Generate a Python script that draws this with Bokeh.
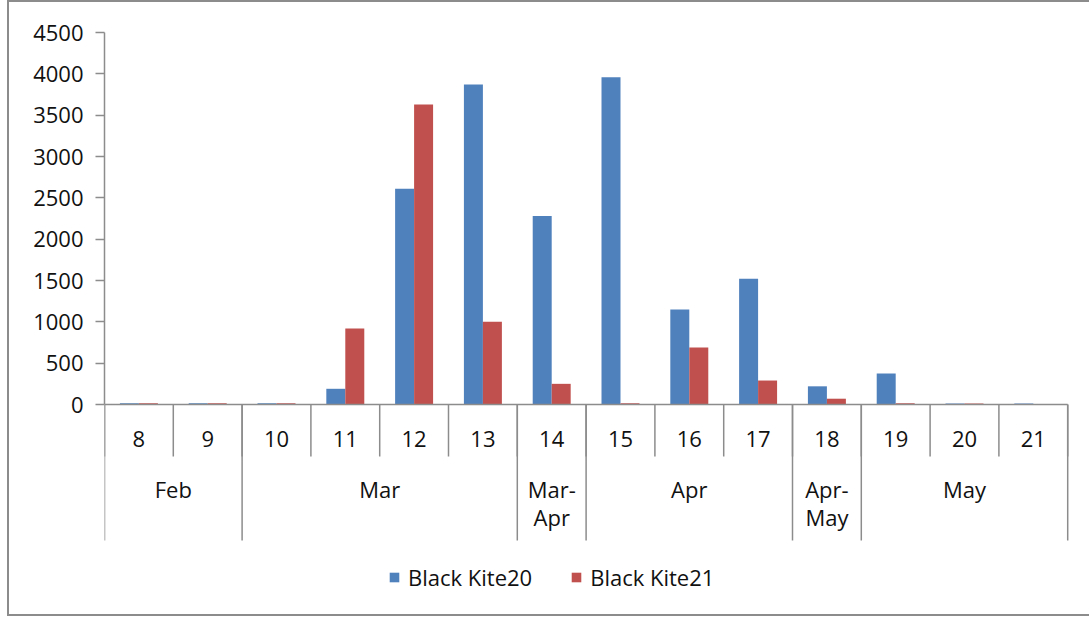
from bokeh.plotting import figure
from bokeh.models import Range1d, FixedTicker
from bokeh.core.properties import value
from bokeh.embed import file_html
from bokeh.resources import INLINE

# ---- data ----
days = ["8", "9", "10", "11", "12", "13", "14", "15", "16", "17", "18", "19", "20", "21"]
groups = ["Feb", "Mar", "Mar-\nApr", "Apr", "Apr-\nMay", "May"]
group_sizes = [2, 4, 1, 3, 1, 3]
kite20 = [15, 15, 15, 190, 2610, 3870, 2280, 3960, 1150, 1520, 220, 375, 12, 12]
kite21 = [15, 15, 15, 920, 3630, 1000, 250, 15, 690, 290, 70, 15, 12, 0]
yticks = [0, 500, 1000, 1500, 2000, 2500, 3000, 3500, 4000, 4500]
series_names = ["Black Kite20", "Black Kite21"]
colors = ["#4F81BD", "#C0504D"]

# ---- layout constants ----
FONT = "Open Sans"
FS = "22px"
TXT = "#111111"
GRID = "#8c8c8c"
PX = 4500 / 372.0          # data units per pixel
CAT_PX = 68.8              # pixel width of one category
TOP = 30
LEFT = 95
W = 1082
H = 616
FRAME_W = W - LEFT
FRAME_H = H - TOP
BAR_W = 0.276

n = len(days)
p = figure(width=W, height=H,
           x_range=Range1d(0, FRAME_W / CAT_PX),
           y_range=Range1d(4500 - FRAME_H * PX, 4500),
           output_backend="svg", toolbar_location=None,
           x_axis_location=None,
           min_border_left=LEFT, min_border_top=TOP,
           min_border_right=0, min_border_bottom=0)
p.styles = {"margin-left": "7px",
            "border-left": "2px solid #8c8c8c",
            "border-top": "2px solid #8c8c8c",
            "border-bottom": "2px solid #8c8c8c"}
p.grid.visible = False
p.outline_line_color = None
p.background_fill_color = "white"
p.border_fill_color = "white"

ax = p.yaxis[0]
ax.ticker = FixedTicker(ticks=yticks)
ax.bounds = (0, 4500)
ax.minor_tick_line_color = None
ax.major_tick_in = 0
ax.major_tick_out = 9
ax.axis_line_color = GRID
ax.major_tick_line_color = GRID
ax.axis_line_width = 1.5
ax.major_tick_line_width = 1.5
ax.major_label_text_font = FONT
ax.major_label_text_font_size = FS
ax.major_label_text_color = TXT
ax.major_label_standoff = 12

xs = [i + 0.5 for i in range(n)]
p.vbar(x=[x - BAR_W / 2 for x in xs], top=kite20, width=BAR_W,
       fill_color=colors[0], line_color=None, legend_label=series_names[0])
p.vbar(x=[x + BAR_W / 2 for x in xs], top=kite21, width=BAR_W,
       fill_color=colors[1], line_color=None, legend_label=series_names[1])

# baseline
p.segment(x0=[0], y0=[0], x1=[n], y1=[0], line_color=GRID, line_width=1.5)

# day separators
p.segment(x0=list(range(n + 1)), y0=[0] * (n + 1), x1=list(range(n + 1)),
          y1=[-52 * PX] * (n + 1), line_color=GRID, line_width=1.5)

# group separators
bounds = [0]
for s in group_sizes:
    bounds.append(bounds[-1] + s)
p.segment(x0=bounds, y0=[0] * len(bounds), x1=bounds,
          y1=[-136 * PX] * len(bounds), line_color=GRID, line_width=1.5)

# day labels
p.text(x=xs, y=[-34 * PX] * n, text=days, text_font=value(FONT),
       text_font_size=value(FS), text_color=TXT, text_align="center",
       text_baseline="middle")

# group labels (one text per line)
lx, ly, lt = [], [], []
for i, g in enumerate(groups):
    cx = (bounds[i] + bounds[i + 1]) / 2
    for k, line in enumerate(g.split("\n")):
        lx.append(cx)
        ly.append(-(84 + 28 * k) * PX)
        lt.append(line)
p.text(x=lx, y=ly, text=lt, text_font=value(FONT),
       text_font_size=value(FS), text_color=TXT, text_align="center",
       text_baseline="middle")

lg = p.legend[0]
lg.orientation = "horizontal"
lg.location = (284, 26)
lg.label_text_font = FONT
lg.label_text_font_size = FS
lg.label_text_color = TXT
lg.glyph_width = 12
lg.glyph_height = 12
lg.spacing = 38
lg.label_standoff = 8
lg.border_line_color = None
lg.background_fill_alpha = 0
lg.padding = 0
lg.margin = 0

open("out.html", "w").write(file_html(p, INLINE))
